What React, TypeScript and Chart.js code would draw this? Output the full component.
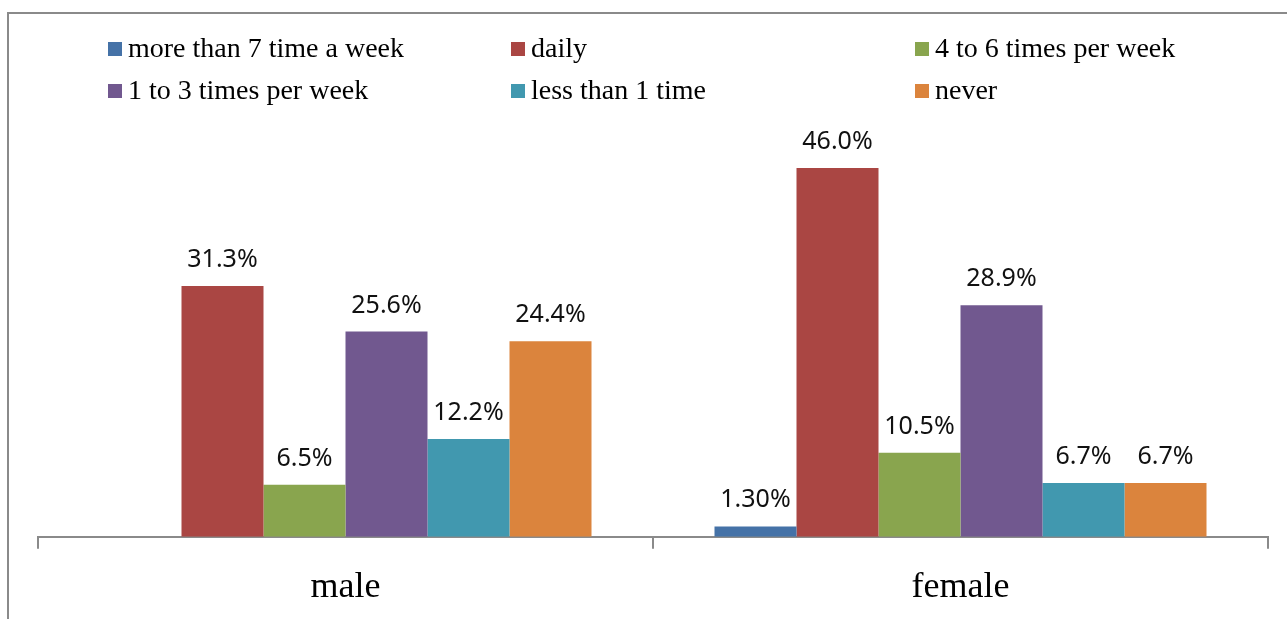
import React, { useEffect, useRef } from "react";
import { Chart, registerables } from "chart.js";
Chart.register(...registerables);

const categories = ["male", "female"];
const seriesNames = [
  "more than 7 time a week",
  "daily",
  "4 to 6 times per week",
  "1 to 3 times per week",
  "less than 1 time",
  "never",
];
const moreThan7Values = [null, 1.3];
const dailyValues = [31.3, 46.0];
const fourToSixValues = [6.5, 10.5];
const oneToThreeValues = [25.6, 28.9];
const lessThanOneValues = [12.2, 6.7];
const neverValues = [24.4, 6.7];

const moreThan7Labels = ["", "1.30%"];
const dailyLabels = ["31.3%", "46.0%"];
const fourToSixLabels = ["6.5%", "10.5%"];
const oneToThreeLabels = ["25.6%", "28.9%"];
const lessThanOneLabels = ["12.2%", "6.7%"];
const neverLabels = ["24.4%", "6.7%"];

const seriesColors = ["#4572A7", "#AA4643", "#89A54E", "#71588F", "#4198AF", "#DB843D"];

const frameColor = "#8a8a8a";
const CANVAS_W = 1287;
const CANVAS_H = 626;

const framePlugin = {
  id: "frame",
  beforeDraw(chart: any) {
    const ctx = chart.ctx;
    ctx.save();
    ctx.fillStyle = "#ffffff";
    ctx.fillRect(0, 0, chart.width, chart.height);
    ctx.strokeStyle = frameColor;
    ctx.lineWidth = 2;
    ctx.beginPath();
    ctx.moveTo(8, chart.height + 5);
    ctx.lineTo(8, 13);
    ctx.lineTo(chart.width + 5, 13);
    ctx.stroke();
    ctx.restore();
  },
};

const legendPlugin = {
  id: "gridLegend",
  afterDraw(chart: any) {
    const ctx = chart.ctx;
    const colX = [108, 511, 915];
    const rowBase = [57, 99];
    ctx.save();
    ctx.font = '28px "Liberation Serif", "Times New Roman", serif';
    ctx.textBaseline = "alphabetic";
    ctx.textAlign = "left";
    chart.data.datasets.forEach((ds: any, i: number) => {
      const col = i % 3;
      const row = Math.floor(i / 3);
      const x = colX[col];
      const base = rowBase[row];
      ctx.fillStyle = ds.backgroundColor;
      ctx.fillRect(x, base - 15, 14, 14);
      ctx.fillStyle = "#000000";
      ctx.fillText(ds.label, x + 20, base);
    });
    ctx.restore();
  },
};

const valueLabelPlugin = {
  id: "valueLabels",
  afterDatasetsDraw(chart: any) {
    const ctx = chart.ctx;
    ctx.save();
    ctx.font = '25px "Noto Sans", "Open Sans", sans-serif';
    ctx.textAlign = "center";
    ctx.textBaseline = "alphabetic";
    ctx.fillStyle = "#111111";
    chart.data.datasets.forEach((ds: any, i: number) => {
      const meta = chart.getDatasetMeta(i);
      meta.data.forEach((el: any, j: number) => {
        const text = ds.valueLabels[j];
        if (!text || ds.data[j] == null) return;
        ctx.fillText(text, el.x, el.y - 19);
      });
    });
    ctx.restore();
  },
};

export default function App() {
  const ref = useRef<HTMLCanvasElement | null>(null);
  useEffect(() => {
    if (!ref.current) return;
    const valuesList = [moreThan7Values, dailyValues, fourToSixValues, oneToThreeValues, lessThanOneValues, neverValues];
    const labelsList = [moreThan7Labels, dailyLabels, fourToSixLabels, oneToThreeLabels, lessThanOneLabels, neverLabels];
    const chart = new Chart(ref.current, {
      type: "bar",
      data: {
        labels: categories,
        datasets: seriesNames.map((name, i) => ({
          label: name,
          data: valuesList[i],
          valueLabels: labelsList[i],
          backgroundColor: seriesColors[i],
          borderWidth: 0,
          categoryPercentage: 0.8,
          barPercentage: 1.0,
        })) as any,
      },
      options: {
        animation: false,
        responsive: false,
        maintainAspectRatio: false,
        layout: { padding: { left: 38, right: 19, top: 136, bottom: 0 } },
        plugins: {
          legend: { display: false },
          tooltip: { enabled: false },
        },
        scales: {
          x: {
            offset: true,
            grid: {
              display: true,
              drawOnChartArea: false,
              drawTicks: true,
              offset: true,
              tickLength: 12,
              color: frameColor,
              lineWidth: 2,
            },
            border: { display: true, color: frameColor, width: 2 },
            ticks: {
              color: "#000000",
              padding: 17,
              font: { family: '"Liberation Serif", "Times New Roman", serif', size: 36 },
            },
          },
          y: {
            display: false,
            min: 0,
            max: 50,
          },
        },
      },
      plugins: [framePlugin, legendPlugin, valueLabelPlugin],
    });
    return () => chart.destroy();
  }, []);
  return (
    <div style={{ position: "absolute", left: 0, top: 0, width: 1287, height: 619, overflow: "hidden" }}>
      <canvas
        ref={ref}
        width={CANVAS_W}
        height={CANVAS_H}
        style={{ width: CANVAS_W, height: CANVAS_H, display: "block" }}
      />
    </div>
  );
}
